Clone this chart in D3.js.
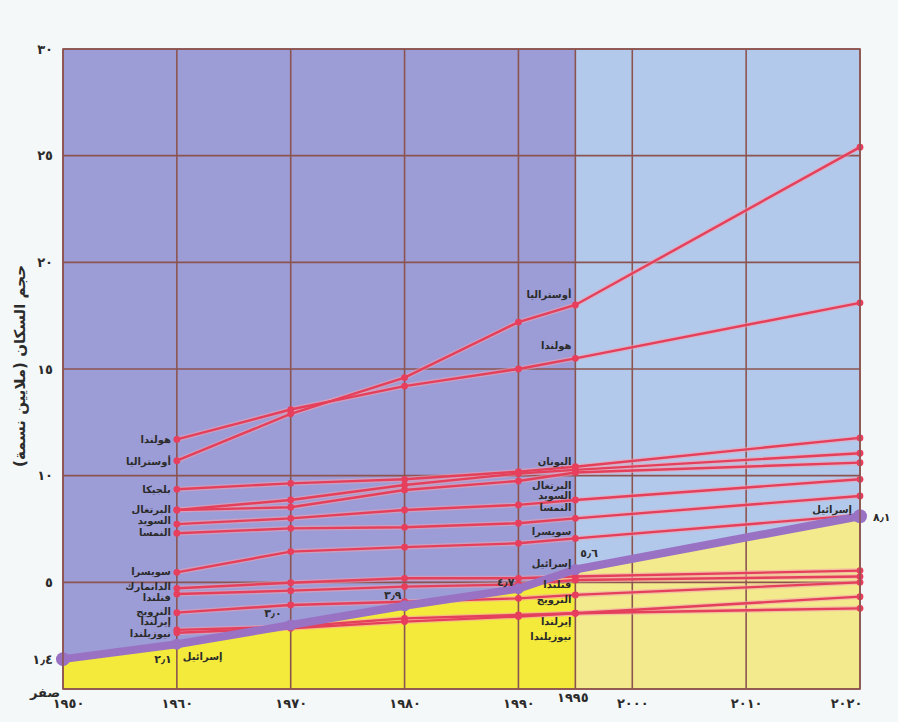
<!DOCTYPE html>
<html><head><meta charset="utf-8">
<script src="https://cdn.jsdelivr.net/npm/d3@7"></script>
<style>
html,body{margin:0;padding:0;background:#f5f8f9;}
svg{display:block;}
text{font-family:"DejaVu Sans",sans-serif;font-weight:bold;fill:#2b2b2b;}
</style></head><body>
<svg id="chart" width="898" height="722"></svg>
<script>
// ---------- data ----------
const years = [1960, 1970, 1980, 1990, 1995, 2020];
const netherlands = [11.7, 13.1, 14.2, 15.0, 15.5, 18.1];
const australia   = [10.7, 12.9, 14.6, 17.2, 18.0, 25.4];
const belgium     = [9.36, 9.64, 9.83, 10.19, 10.42, 11.77];
const greece      = [8.39, 8.86, 9.56, 10.1, 10.27, 11.05];
const portugal    = [8.39, 8.52, 9.33, 9.75, 10.15, 10.61];
const sweden      = [7.73, 8.0, 8.39, 8.63, 8.86, 9.83];
const austria     = [7.3, 7.53, 7.58, 7.77, 8.0, 9.05];
const switzerland = [5.47, 6.44, 6.65, 6.83, 7.06, 8.15];
const denmark     = [4.72, 4.98, 5.19, 5.19, 5.27, 5.55];
const finland     = [4.45, 4.61, 4.8, 4.9, 5.11, 5.27];
const norway      = [3.58, 3.94, 4.09, 4.25, 4.41, 5.0];
const ireland     = [2.77, 2.92, 3.31, 3.47, 3.55, 4.33];
const newZealand  = [2.64, 2.85, 3.16, 3.4, 3.55, 3.78];

const israelYears  = [1950, 1960, 1970, 1980, 1990, 1995, 2020];
const israel       = [1.4, 2.1, 3.0, 3.9, 4.7, 5.6, 8.1];
const israelLabels = ["١٫٤", "٢٫١", "٣٫٠", "٣٫٩", "٤٫٧", "٥٫٦", "٨٫١"];
const israelName   = "إسرائيل";

const countryKeys  = ["netherlands","australia","belgium","greece","portugal","sweden","austria","switzerland","denmark","finland","norway","ireland","newZealand"];
const countryNames = ["هولندا","أوستراليا","بلجيكا","اليونان","البرتغال","السويد","النمسا","سويسرا","الدانمارك","فنلندا","النرويج","إيرلندا","نيوزيلندا"];
const countryValues = [netherlands, australia, belgium, greece, portugal, sweden, austria, switzerland, denmark, finland, norway, ireland, newZealand];

const yTickValues = [30, 25, 20, 15, 10, 5, 1.4];
const yTickLabels = ["٣٠", "٢٥", "٢٠", "١٥", "١٠", "٥", "١٫٤"];
const zeroLabel   = "صفر";
const xTickValues = [1950, 1960, 1970, 1980, 1990, 2000, 2010, 2020];
const xTickLabels = ["١٩٥٠", "١٩٦٠", "١٩٧٠", "١٩٨٠", "١٩٩٠", "٢٠٠٠", "٢٠١٠", "٢٠٢٠"];
const splitYear   = 1995;
const splitLabel  = "١٩٩٥";
const axisTitle   = "حجم السكان (ملايين نسمة)";
const gridYears   = [1950, 1960, 1970, 1980, 1990, 1995, 2000, 2010, 2020];
const gridValues  = [0, 5, 10, 15, 20, 25, 30];

// label layout (pixel nudges, not data)
const leftLabelKeys  = ["netherlands","australia","belgium","portugal","sweden","austria","switzerland","denmark","finland","norway","ireland","newZealand"];
const leftNudge      = {netherlands:0, australia:1, belgium:0, portugal:-1, sweden:-4, austria:-1, switzerland:-1, denmark:-2, finland:3, norway:-1, ireland:-8, newZealand:1};
const rightLabelKeys = ["australia","netherlands","greece","portugal","sweden","austria","switzerland","finland","norway","ireland","newZealand"];
const rightNudge     = {australia:-11, netherlands:-13, greece:-8, portugal:13, sweden:-4, austria:-11, switzerland:-7, finland:5, norway:5, ireland:8, newZealand:23};
const xTickShift     = {1950: 5, 2020: -14};

// ---------- chart ----------
const svg = d3.select("#chart");
const x = d3.scaleLinear().domain([1950, 2020]).range([63, 860]);
const y = d3.scaleLinear().domain([0, 30]).range([689, 49]);

const X0 = x(1950), X1 = x(2020), XS = x(splitYear), Y0 = y(0), Y1 = y(30);

const defs = svg.append("defs");
defs.append("clipPath").attr("id","clipL").append("rect")
  .attr("x", X0).attr("y", Y1).attr("width", XS - X0).attr("height", Y0 - Y1);
defs.append("clipPath").attr("id","clipR").append("rect")
  .attr("x", XS).attr("y", Y1).attr("width", X1 - XS).attr("height", Y0 - Y1);

// backgrounds
svg.append("rect").attr("x", X0).attr("y", Y1).attr("width", XS - X0).attr("height", Y0 - Y1).attr("fill", "#9c9dd6");
svg.append("rect").attr("x", XS).attr("y", Y1).attr("width", X1 - XS).attr("height", Y0 - Y1).attr("fill", "#b3c9ec");

// yellow area under Israel
const israelData = israelYears.map((yr, i) => ({year: yr, v: israel[i], label: israelLabels[i]}));
const area = d3.area().x(d => x(d.year)).y0(y(0)).y1(d => y(d.v));
svg.append("path").datum(israelData).attr("d", area).attr("fill", "#f4ea3c").attr("clip-path", "url(#clipL)");
svg.append("path").datum(israelData).attr("d", area).attr("fill", "#f2ea8c").attr("clip-path", "url(#clipR)");

// grid
const grid = svg.append("g").attr("stroke", "#8c5450").attr("stroke-width", 1.6);
grid.selectAll("line.v").data(gridYears).join("line")
  .attr("x1", d => x(d)).attr("x2", d => x(d)).attr("y1", Y1).attr("y2", Y0);
grid.selectAll("line.h").data(gridValues).join("line")
  .attr("x1", X0).attr("x2", X1).attr("y1", d => y(d)).attr("y2", d => y(d));

// country lines
const line = d3.line().x(d => x(d.year)).y(d => y(d.v));
const series = countryKeys.map((k, i) => ({
  key: k, name: countryNames[i],
  pts: years.map((yr, j) => ({year: yr, v: countryValues[i][j]}))
}));
const cg = svg.append("g");
cg.selectAll("path.halo").data(series).join("path")
  .attr("d", d => line(d.pts)).attr("fill", "none")
  .attr("stroke", "#f4a0b0").attr("stroke-opacity", 0.55).attr("stroke-width", 5);
cg.selectAll("path.ln").data(series).join("path")
  .attr("d", d => line(d.pts)).attr("fill", "none")
  .attr("stroke", "#e4405c").attr("stroke-width", 2.4);
cg.selectAll("g.dots").data(series).join("g").selectAll("circle")
  .data(d => d.pts).join("circle")
  .attr("cx", d => x(d.year)).attr("cy", d => y(d.v)).attr("r", 3.4).attr("fill", "#e63e5c");

// Israel line
svg.append("path").datum(israelData).attr("d", line).attr("fill", "none")
  .attr("stroke", "#9a72c4").attr("stroke-width", 8).attr("stroke-linejoin", "round");
svg.selectAll("circle.isr").data(israelData).join("circle")
  .attr("cx", d => x(d.year)).attr("cy", d => y(d.v))
  .attr("r", d => (d.year === 1950 || d.year === 2020) ? 7 : 5.5).attr("fill", "#9a72c4");

// axes
const yAxis = d3.axisLeft(y).tickValues(yTickValues)
  .tickFormat((d, i) => yTickLabels[i]).tickSize(0).tickPadding(10);
const ya = svg.append("g").attr("transform", `translate(${X0},0)`).call(yAxis);
ya.select(".domain").remove();
ya.selectAll("text").style("font-family", "DejaVu Sans").style("font-weight", "bold")
  .style("font-size", "13px").style("letter-spacing", "1.5px").attr("fill", "#2b2b2b");
svg.append("text").attr("x", X0 - 3).attr("y", y(0) + 3).attr("dy", "0.35em")
  .attr("text-anchor", "end").style("font-size", "13px").text(zeroLabel);

const xAxis = d3.axisBottom(x).tickValues(xTickValues)
  .tickFormat((d, i) => xTickLabels[i]).tickSize(0).tickPadding(10);
const xa = svg.append("g").attr("transform", `translate(0,${Y0})`).call(xAxis);
xa.select(".domain").remove();
xa.selectAll("text").style("font-family", "DejaVu Sans").style("font-weight", "bold")
  .style("font-size", "13px").style("letter-spacing", "2px").attr("fill", "#2b2b2b")
  .attr("dx", d => xTickShift[d] || 0);
const xAxis2 = d3.axisBottom(x).tickValues([splitYear]).tickFormat(() => splitLabel).tickSize(0).tickPadding(4);
const xb = svg.append("g").attr("transform", `translate(-3,${Y0})`).call(xAxis2);
xb.select(".domain").remove();
xb.selectAll("text").style("font-family", "DejaVu Sans").style("font-weight", "bold")
  .style("font-size", "13px").style("letter-spacing", "2px").attr("fill", "#2b2b2b");

// axis title
svg.append("text").attr("transform", `translate(20,366) rotate(-90)`)
  .attr("text-anchor", "middle").attr("direction", "rtl").attr("dy", "0.35em")
  .style("font-size", "15px").text(axisTitle);

// country labels at 1960
const lbl = svg.append("g").style("font-size", "10px");
const byKey = Object.fromEntries(series.map(s => [s.key, s]));
lbl.selectAll("text.l").data(leftLabelKeys).join("text")
  .attr("x", x(1960) - 6)
  .attr("y", k => y(byKey[k].pts[0].v) + leftNudge[k]).attr("dy", "0.35em")
  .attr("text-anchor", "end").text(k => byKey[k].name);
// country labels at 1995
const i95 = years.indexOf(1995);
lbl.selectAll("text.r").data(rightLabelKeys).join("text")
  .attr("x", x(1995) - 4)
  .attr("y", k => y(byKey[k].pts[i95].v) + rightNudge[k]).attr("dy", "0.35em")
  .attr("text-anchor", "end").text(k => byKey[k].name);

// Israel labels
const isr = svg.append("g").style("font-size", "11px");
const isrLayout = [
  {year:1960, dx:-5, dy:15, anchor:"end"},
  {year:1970, dx:-9, dy:-12, anchor:"end"},
  {year:1980, dx:-3, dy:-11, anchor:"end"},
  {year:1990, dx:-4, dy:-7, anchor:"end"},
  {year:1995, dx:5, dy:-16, anchor:"start"},
  {year:2020, dx:13, dy:1, anchor:"start"}
];
isr.selectAll("text.v").data(isrLayout).join("text")
  .attr("x", d => x(d.year) + d.dx)
  .attr("y", d => y(israel[israelYears.indexOf(d.year)]) + d.dy).attr("dy", "0.35em")
  .attr("text-anchor", d => d.anchor).style("letter-spacing", "1px")
  .text(d => israelLabels[israelYears.indexOf(d.year)]);
isr.append("text").attr("x", x(1960) + 6).attr("y", y(israel[1]) + 12).attr("dy", "0.35em")
  .attr("text-anchor", "start").style("font-size", "10px").text(israelName);
isr.append("text").attr("x", x(1995) - 4).attr("y", y(israel[5]) - 6).attr("dy", "0.35em")
  .attr("text-anchor", "end").style("font-size", "10px").text(israelName);
isr.append("text").attr("x", x(2020) - 8).attr("y", y(israel[6]) - 7).attr("dy", "0.35em")
  .attr("text-anchor", "end").style("font-size", "10px").text(israelName);

// border
svg.append("rect").attr("x", X0).attr("y", Y1).attr("width", X1 - X0).attr("height", Y0 - Y1)
  .attr("fill", "none").attr("stroke", "#8c5450").attr("stroke-width", 1.6);
</script>
</body></html>
